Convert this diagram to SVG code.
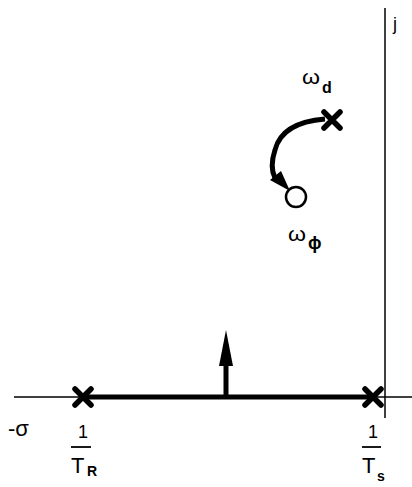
<svg xmlns="http://www.w3.org/2000/svg" width="412" height="487" viewBox="0 0 412 487">
<style>
.axis{stroke:#000;stroke-width:1.5;fill:none}
.thick{stroke:#000;stroke-width:5;fill:none}
.x{stroke:#000;stroke-width:5.5;stroke-linecap:round;fill:none}
.t{font-family:"Liberation Sans",Arial,sans-serif;fill:#000}
</style>
<rect width="412" height="487" fill="#fff"/>
<g id="axes">
<line class="axis" x1="14" y1="397" x2="412" y2="397"/>
<line class="axis" x1="385" y1="8" x2="385" y2="418"/>
<text class="t" x="393" y="30" font-size="18">j</text>
<text class="t" x="8" y="436" font-size="22">-σ</text>
</g>
<g id="connectors">
<line class="thick" x1="83" y1="397" x2="373" y2="397"/>
<line x1="226" y1="397" x2="226" y2="360" stroke="#000" stroke-width="5"/>
<polygon points="226,330 233,366 219,366" fill="#000"/>
<path d="M325,119 C300,121 280,130 275,150 C271,162 272,172 275,178" stroke="#000" stroke-width="5" fill="none"/>
<polygon points="290,191 270,180 281,171" fill="#000"/>
</g>
<g id="pole-TR">
<path class="x" d="M75,389 L91,405 M91,389 L75,405"/>
<text class="t" x="78" y="438" font-size="18">1</text>
<line x1="71" y1="447" x2="91" y2="447" stroke="#000" stroke-width="1.8"/>
<text class="t" x="71" y="473" font-size="22">T</text>
<text class="t" x="87" y="476" font-size="14" font-weight="bold">R</text>
</g>
<g id="pole-TS">
<path class="x" d="M365,389 L381,405 M381,389 L365,405"/>
<text class="t" x="368" y="438" font-size="18">1</text>
<line x1="362" y1="447" x2="381" y2="447" stroke="#000" stroke-width="1.8"/>
<text class="t" x="362" y="473" font-size="22">T</text>
<text class="t" x="377" y="481" font-size="14" font-weight="bold">s</text>
</g>
<g id="pole-wd">
<path class="x" d="M324,112 L340,128 M340,112 L324,128"/>
<text class="t" x="302" y="84" font-size="20" textLength="18" lengthAdjust="spacingAndGlyphs">ω</text>
<text class="t" x="322" y="93" font-size="16" font-weight="bold">d</text>
</g>
<g id="zero-wphi">
<circle cx="296" cy="197" r="10" stroke="#000" stroke-width="2.5" fill="none"/>
<text class="t" x="288" y="241" font-size="20" textLength="18" lengthAdjust="spacingAndGlyphs">ω</text>
<text class="t" x="308" y="249" font-size="18" font-weight="bold">ϕ</text>
</g>
</svg>
